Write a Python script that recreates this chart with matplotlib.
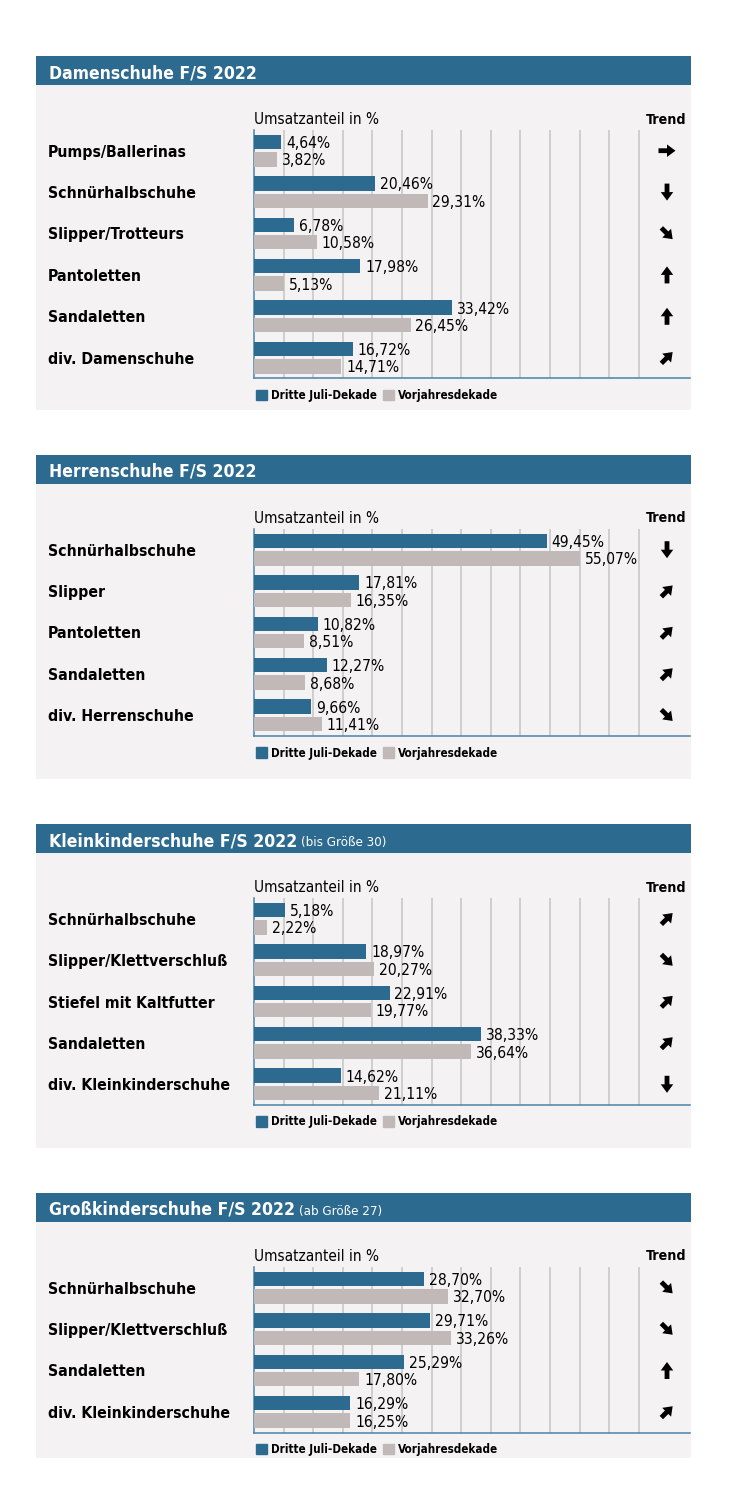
import numpy as np
import matplotlib.pyplot as plt
from matplotlib import font_manager
from matplotlib.patches import Rectangle, FancyArrow, Patch

# --- data -------------------------------------------------------------
dam_cats = ['Pumps/Ballerinas', 'Schnürhalbschuhe', 'Slipper/Trotteurs',
            'Pantoletten', 'Sandaletten', 'div. Damenschuhe']
dam_now = [4.64, 20.46, 6.78, 17.98, 33.42, 16.72]
dam_prev = [3.82, 29.31, 10.58, 5.13, 26.45, 14.71]
dam_trend = ['right', 'down', 'downright', 'up', 'up', 'upright']

her_cats = ['Schnürhalbschuhe', 'Slipper', 'Pantoletten', 'Sandaletten',
            'div. Herrenschuhe']
her_now = [49.45, 17.81, 10.82, 12.27, 9.66]
her_prev = [55.07, 16.35, 8.51, 8.68, 11.41]
her_trend = ['down', 'upright', 'upright', 'upright', 'downright']

kk_cats = ['Schnürhalbschuhe', 'Slipper/Klettverschluß', 'Stiefel mit Kaltfutter',
           'Sandaletten', 'div. Kleinkinderschuhe']
kk_now = [5.18, 18.97, 22.91, 38.33, 14.62]
kk_prev = [2.22, 20.27, 19.77, 36.64, 21.11]
kk_trend = ['upright', 'downright', 'upright', 'upright', 'down']

gk_cats = ['Schnürhalbschuhe', 'Slipper/Klettverschluß', 'Sandaletten',
           'div. Kleinkinderschuhe']
gk_now = [28.70, 29.71, 25.29, 16.29]
gk_prev = [32.70, 33.26, 17.80, 16.25]
gk_trend = ['downright', 'downright', 'up', 'upright']

titles = ['Damenschuhe F/S 2022', 'Herrenschuhe F/S 2022',
          'Kleinkinderschuhe F/S 2022', 'Großkinderschuhe F/S 2022']
subtitles = ['', '', '(bis Größe 30)', '(ab Größe 27)']
series_names = ['Dritte Juli-Dekade', 'Vorjahresdekade']

panels = [
    (dam_cats, dam_now, dam_prev, dam_trend),
    (her_cats, her_now, her_prev, her_trend),
    (kk_cats, kk_now, kk_prev, kk_trend),
    (gk_cats, gk_now, gk_prev, gk_trend),
]

# --- layout (pixels) ----------------------------------------------------
W, H = 741, 1493
panel_tops = [56, 455, 824, 1193]
panel_bottoms = [410, 779, 1148, 1458]
GROUP = 41.4
X0, X1 = 254, 690

BLUE = '#2d6a8f'
GREY = '#c0b9b7'
BG = '#f4f2f2'
GRID = '#cbc7c7'
SPINE = '#4a84aa'

names = {f.name for f in font_manager.fontManager.ttflist}
NARROW = 'Liberation Sans Narrow' if 'Liberation Sans Narrow' in names else 'DejaVu Sans'
plt.rcParams['font.family'] = NARROW
plt.rcParams['font.stretch'] = 'condensed'

DIRS = {'right': (1, 0), 'down': (0, 1), 'up': (0, -1),
        'upright': (0.707, -0.707), 'downright': (0.707, 0.707)}


def fig_rect(x0, y0, x1, y1):
    return [x0 / W, 1 - y1 / H, (x1 - x0) / W, (y1 - y0) / H]


def fmt(v):
    return f'{v:.2f}'.replace('.', ',') + '%'


fig = plt.figure(figsize=(W / 100, H / 100), dpi=100)
bg = fig.add_axes([0, 0, 1, 1], zorder=0)
bg.set_xlim(0, W)
bg.set_ylim(H, 0)
bg.axis('off')

for k, (cats, now, prev, trend) in enumerate(panels):
    top = panel_tops[k]
    bottom = panel_bottoms[k]
    bg.add_patch(Rectangle((36, top), 655, bottom - top, color=BG, lw=0))
    bg.add_patch(Rectangle((36, top), 655, 29, color=BLUE, lw=0))
    t = bg.text(49, top + 15, titles[k], color='white', fontsize=12.6,
                fontweight='bold', va='center_baseline')
    if subtitles[k]:
        bg.annotate(subtitles[k], xy=(1, 0), xycoords=t, xytext=(3, 0.5),
                    textcoords='offset points', color='white', fontsize=9.5,
                    va='bottom', ha='left')

    n = len(cats)
    ax_top = top + 74
    ax_bot = ax_top + n * GROUP
    ax = fig.add_axes(fig_rect(X0, ax_top, X1, ax_bot), zorder=1)
    ax.set_facecolor('none')

    y = np.arange(n)
    b1 = ax.barh(y - 0.21, now, height=0.35, color=BLUE, zorder=3)
    b2 = ax.barh(y + 0.21, prev, height=0.35, color=GREY, zorder=3)
    for cont, vals in ((b1, now), (b2, prev)):
        for lbl in ax.bar_label(cont, labels=[fmt(v) for v in vals],
                                padding=3.5, fontsize=11.2):
            lbl.set_va('center_baseline')

    ax.set_xlim(0, (X1 - X0) / 5.92)
    ax.set_ylim(n - 0.5, -0.5)
    ax.set_xticks(np.arange(5, 70, 5))
    ax.xaxis.set_ticklabels([])
    ax.tick_params(axis='x', length=0)
    ax.grid(axis='x', color=GRID, lw=1.2, zorder=0)
    ax.set_axisbelow(True)

    ax.set_yticks(y, cats)
    ax.tick_params(axis='y', length=0, pad=(X0 - 48) * 0.72)
    for lbl in ax.get_yticklabels():
        lbl.set_ha('left')
        lbl.set_fontweight('bold')
        lbl.set_fontsize(11.3)

    for s in ('top', 'right'):
        ax.spines[s].set_visible(False)
    for s in ('left', 'bottom'):
        ax.spines[s].set_color(SPINE)
        ax.spines[s].set_linewidth(1.1)

    handles = [Patch(color=BLUE), Patch(color=GREY)]
    ax.legend(handles, series_names, loc='center left',
              bbox_to_anchor=(0.004, -17 / (n * GROUP)), ncol=2, frameon=False,
              handlelength=0.95, handleheight=0.95, handletextpad=0.35,
              columnspacing=0.55, borderpad=0, borderaxespad=0,
              prop={'weight': 'bold', 'size': 8.4})

    bg.text(X0, ax_top - 12, 'Umsatzanteil in %', fontsize=11,
            va='center_baseline', ha='left')
    bg.text(686, ax_top - 12, 'Trend', fontsize=10.2, fontweight='bold',
            va='center_baseline', ha='right')

    for i, d in enumerate(trend):
        cy = ax_top + (i + 0.5) * GROUP
        dx, dy = DIRS[d]
        L = 17 if d in ('right', 'down', 'up') else 16
        bg.add_patch(FancyArrow(667 - dx * L / 2, cy - dy * L / 2, dx * L, dy * L,
                                width=4.8, head_width=12.5, head_length=8.5,
                                length_includes_head=True, color='black', lw=0))

fig.savefig('out.png', dpi=100, facecolor='white')
